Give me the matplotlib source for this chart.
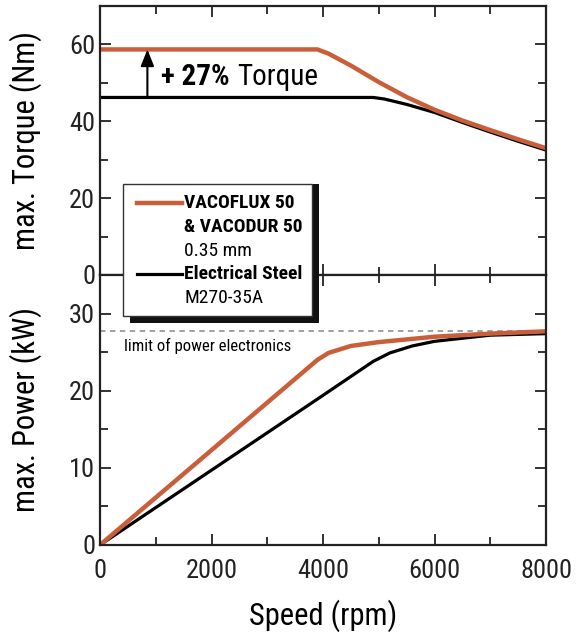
import numpy as np
import matplotlib
matplotlib.use("Agg")
import matplotlib.pyplot as plt
from matplotlib.patches import Rectangle
from matplotlib.lines import Line2D
from matplotlib.ticker import MultipleLocator

plt.rcParams['font.family'] = ['Roboto Condensed', 'DejaVu Sans']

# torque curves (Nm)
rpm_vf_t = [0, 3900, 4100, 4500, 5000, 5500, 6000, 6500, 7000, 7500, 8000]
torque_vf = [58.7, 58.7, 57.6, 54.5, 50.2, 46.3, 43.0, 40.2, 37.7, 35.3, 33.0]
rpm_es_t = [0, 4900, 5100, 5500, 6000, 6500, 7000, 7500, 8000]
torque_es = [46.2, 46.2, 45.8, 44.4, 42.3, 39.7, 37.2, 34.8, 32.5]

# power curves (kW)
rpm_vf_p = [0, 2000, 3900, 4100, 4500, 5000, 6000, 7000, 8000]
power_vf = [0, 12.3, 24.0, 24.9, 25.8, 26.3, 27.0, 27.4, 27.7]
rpm_es_p = [0, 2000, 4000, 4900, 5200, 5600, 6000, 7000, 8000]
power_es = [0, 9.7, 19.4, 23.8, 24.9, 25.8, 26.4, 27.2, 27.4]

power_limit = 27.7
arrow_rpm = 850

orange = '#c95f3a'
W, H = 582, 635

fig = plt.figure(figsize=(W / 100, H / 100), dpi=100)
ax1 = fig.add_axes([100 / W, 1 - 275 / H, 446 / W, 269 / H])
ax2 = fig.add_axes([100 / W, 1 - 545 / H, 446 / W, 270 / H], sharex=ax1)

ax1.plot(rpm_es_t, torque_es, color='black', lw=2.3, solid_capstyle='butt')
ax1.plot(rpm_vf_t, torque_vf, color=orange, lw=3.2, solid_capstyle='butt')
ax1.annotate('', xy=(arrow_rpm, torque_vf[0]), xytext=(arrow_rpm, torque_es[0]),
             arrowprops=dict(arrowstyle='-|>,head_length=0.5,head_width=0.2', color='black',
                             lw=1.5, mutation_scale=20, shrinkA=0, shrinkB=0))
t1 = ax1.text(1100, 51.5, '+ 27%', fontsize=21, fontweight='bold', va='center', ha='left')
ax1.annotate('Torque', xy=(1, 0.5), xycoords=t1, xytext=(5, 0), textcoords='offset points',
             fontsize=21, va='center', ha='left')

ax2.axhline(power_limit, color='#999999', lw=1.3, ls=(0, (3, 2.5)))
ax2.plot(rpm_es_p, power_es, color='black', lw=2.3)
ax2.plot(rpm_vf_p, power_vf, color=orange, lw=3.2)
ax2.text(430, 25.8, 'limit of power electronics', fontsize=12, va='center', ha='left')

ax1.set_xlim(0, 8000)
ax1.set_ylim(0, 70)
ax2.set_ylim(0, 35)

for ax in (ax1, ax2):
    ax.xaxis.set_major_locator(MultipleLocator(2000))
    ax.xaxis.set_minor_locator(MultipleLocator(1000))
    ax.tick_params(which='both', direction='in', top=True, right=True, width=1.3, colors='#222222',
                   labelsize=19)
    ax.tick_params(which='major', length=8)
    ax.tick_params(which='minor', length=6)
    for s in ax.spines.values():
        s.set_linewidth(1.6)
        s.set_color('#222222')
ax1.yaxis.set_major_locator(MultipleLocator(20))
ax1.yaxis.set_minor_locator(MultipleLocator(10))
ax2.yaxis.set_major_locator(MultipleLocator(10))
ax2.yaxis.set_minor_locator(MultipleLocator(5))
ax1.tick_params(labelbottom=False)
ax2.tick_params(axis='x', pad=10)

ax1.set_ylabel('max. Torque (Nm)', fontsize=22)
ax2.set_ylabel('max. Power (kW)', fontsize=22)
ax1.yaxis.set_label_coords(-0.13, 0.5)
ax2.yaxis.set_label_coords(-0.13, 0.5)
ax2.set_xlabel('Speed (rpm)', fontsize=22, labelpad=12)

# legend box spanning both panels
def fx(px):
    return px / W

def fy(py):
    return 1 - py / H

fig.patches.append(Rectangle((fx(130), fy(323)), fx(189), 139 / H, transform=fig.transFigure,
                             facecolor='#111111', edgecolor='none', zorder=5))
fig.patches.append(Rectangle((fx(123), fy(316)), fx(189), 132 / H, transform=fig.transFigure,
                             facecolor='white', edgecolor='#333333', lw=1.0, zorder=6))
fig.lines.append(Line2D([fx(137), fx(182)], [fy(203), fy(203)], transform=fig.transFigure,
                        color=orange, lw=3.2, zorder=7))
fig.lines.append(Line2D([fx(137), fx(182)], [fy(274), fy(274)], transform=fig.transFigure,
                        color='black', lw=2.3, zorder=7))
leg_rows = [('VACOFLUX 50', 'bold', 203), ('& VACODUR 50', 'bold', 227),
            ('0.35 mm', 'normal', 251), ('Electrical Steel', 'bold', 274),
            ('M270-35A', 'normal', 298)]
for txt, wt, py in leg_rows:
    fig.text(fx(184), fy(py), txt, fontsize=14, fontweight=wt, va='center', ha='left', zorder=8)

fig.savefig('out.png', dpi=100)
